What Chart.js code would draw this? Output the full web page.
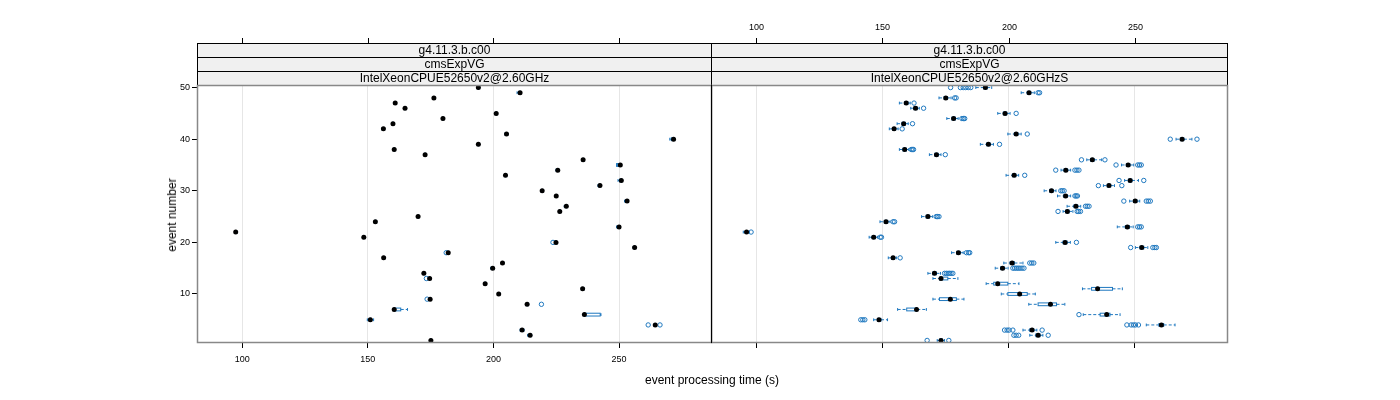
<!DOCTYPE html>
<html lang="en">
  <head>
    <meta charset="UTF-8" />
    <script src="https://cdn.jsdelivr.net/npm/chart.js@4.4.0/dist/chart.umd.min.js"></script>
    <title>event processing time</title>
    <style>
      body { margin: 0; background: #fff; }
      #wrap { position: relative; width: 1400px; height: 400px; font-family: "Liberation Sans", Arial, sans-serif; }
      canvas { position: absolute; top: 0; }
      #left { left: 0; }
      #right { left: 711px; }
      .title { position: absolute; font-size: 12px; line-height: 14px; color: #000; white-space: nowrap; }
      #xtitle { left: 712px; top: 373px; transform: translateX(-50%); }
      #ytitle { left: 172px; top: 215px; transform: translate(-50%, -50%) rotate(-90deg); }
    </style>
  </head>
  <body>
    <div id="wrap">
      <canvas id="left" width="713" height="400"></canvas>
      <canvas id="right" width="537" height="400"></canvas>
      <div class="title" id="xtitle">event processing time (s)</div>
      <div class="title" id="ytitle">event number</div>
    </div>
    <script>
      const events = [
        1, 2, 3, 4, 5, 6, 7, 8, 9, 10, 11, 12, 13, 14, 15, 16, 17, 18, 19, 20,
        21, 22, 23, 24, 25, 26, 27, 28, 29, 30, 31, 32, 33, 34, 35, 36, 37, 38,
        39, 40, 41, 42, 43, 44, 45, 46, 47, 48, 49, 50,
      ];
      const xTicks = [100, 150, 200, 250];
      const yTicks = [10, 20, 30, 40, 50];
      const stripLeft = ["g4.11.3.b.c00", "cmsExpVG", "IntelXeonCPUE52650v2@2.60GHz"];
      const stripRight = ["g4.11.3.b.c00", "cmsExpVG", "IntelXeonCPUE52650v2@2.60GHzS"];

      // left panel (IntelXeonCPUE52650v2@2.60GHz)
      const leftMed = [
        175.1, 214.6, 211.4, 264.4, 151.0, 236.2, 160.5, 213.4, 174.8, 202.1,
        235.5, 196.7, 174.6, 172.3, 199.7, 203.6, 156.3, 182.0, 256.2, 224.9,
        148.4, 97.4, 250.0, 153.0, 170.0, 226.4, 229.0, 253.2, 225.0, 219.4,
        242.4, 250.9, 204.8, 225.6, 250.5, 235.7, 172.8, 160.5, 194.0, 271.7,
        205.2, 156.2, 160.0, 179.9, 201.1, 164.8, 160.9, 176.3, 210.6, 194.0,
      ];
      const leftLo = [
        174.8, 213.6, 210.6, 264.0, 149.8, 235.8, 160.2, 213.0, 174.3, 201.7,
        235.0, 196.3, 174.2, 171.9, 198.9, 203.2, 155.9, 181.6, 255.6, 224.5,
        148.0, 97.0, 249.0, 152.6, 169.6, 226.0, 228.2, 252.2, 224.6, 219.0,
        241.6, 249.6, 204.4, 224.9, 249.3, 235.1, 172.4, 160.1, 193.6, 270.2,
        204.6, 155.6, 159.6, 179.5, 200.7, 164.4, 160.5, 175.9, 209.4, 193.6,
      ];
      const leftQ1 = [
        175.0, 214.2, 211.1, 264.2, 150.6, 236.1, 160.4, 213.2, 174.6, 201.9,
        235.3, 196.5, 174.4, 172.1, 199.4, 203.4, 156.1, 181.8, 256.0, 224.7,
        148.2, 97.2, 249.6, 152.8, 169.8, 226.2, 228.7, 252.8, 224.8, 219.2,
        242.0, 250.3, 204.6, 225.3, 249.0, 235.4, 172.6, 160.3, 193.8, 270.8,
        204.9, 155.9, 159.8, 179.7, 200.9, 164.6, 160.7, 176.1, 210.1, 193.8,
      ];
      const leftQ3 = [
        175.3, 214.9, 211.6, 264.6, 151.4, 242.5, 163.1, 213.7, 175.0, 202.3,
        235.8, 196.9, 174.8, 172.5, 199.9, 203.8, 156.5, 182.2, 256.4, 225.1,
        148.6, 97.6, 250.2, 153.2, 170.2, 226.6, 229.2, 253.4, 225.2, 219.6,
        242.6, 251.1, 205.0, 225.8, 250.7, 235.9, 173.0, 160.7, 194.2, 271.9,
        205.4, 156.4, 160.2, 180.1, 201.3, 165.0, 161.1, 176.5, 210.8, 194.2,
      ];
      const leftHi = [
        175.6, 215.2, 212.2, 264.9, 152.3, 242.8, 165.8, 214.0, 175.3, 202.6,
        236.1, 197.2, 175.0, 172.8, 200.2, 204.1, 156.8, 182.5, 256.7, 225.4,
        148.9, 97.9, 250.5, 153.5, 170.5, 226.9, 229.5, 253.7, 225.5, 219.9,
        242.9, 251.4, 205.3, 226.1, 251.0, 236.2, 173.3, 161.0, 194.5, 272.2,
        205.7, 156.7, 160.5, 180.4, 201.6, 165.3, 161.4, 176.8, 211.1, 194.5,
      ];
      const leftOut = [
        [], [], [], [261.6, 266.3], [], [], [], [219.1], [173.6], [],
        [], [], [173.3], [], [], [], [], [181.2], [], [223.7],
        [], [], [], [], [], [], [], [], [], [],
        [], [], [], [], [], [], [], [], [], [],
        [], [], [], [], [], [], [], [], [], [],
      ];

      // right panel (IntelXeonCPUE52650v2@2.60GHzS)
      const rightMed = [
        173.2, 211.7, 209.3, 260.6, 148.6, 238.9, 163.5, 216.6, 176.9, 204.4,
        235.3, 195.7, 173.2, 170.6, 197.6, 201.4, 154.2, 180.1, 252.8, 222.4,
        146.5, 96.1, 247.1, 151.4, 168.0, 223.3, 226.7, 250.2, 222.6, 217.0,
        239.8, 248.2, 202.2, 222.7, 247.4, 233.2, 171.4, 158.8, 192.0, 268.8,
        203.0, 154.6, 158.4, 178.2, 198.6, 163.1, 159.4, 175.1, 208.1, 190.8,
      ];
      const rightLo = [
        171.7, 208.4, 205.7, 254.6, 146.5, 229.6, 156.0, 208.0, 170.0, 197.1,
        229.3, 191.1, 170.0, 168.0, 194.7, 198.1, 152.3, 177.4, 250.3, 218.7,
        144.7, 94.8, 243.1, 149.0, 165.5, 221.6, 223.2, 248.0, 219.4, 214.1,
        237.6, 246.0, 199.0, 220.8, 244.8, 231.0, 168.6, 156.7, 188.8, 266.4,
        199.7, 152.7, 155.8, 175.5, 195.7, 161.2, 156.7, 172.4, 205.0, 187.0,
      ];
      const rightQ1 = [
        172.6, 210.8, 208.4, 259.6, 148.0, 236.3, 159.6, 211.7, 172.6, 199.7,
        232.9, 194.1, 172.6, 169.9, 196.8, 200.6, 153.6, 179.4, 252.1, 221.6,
        145.9, 95.6, 246.3, 150.7, 167.3, 222.6, 225.9, 249.5, 221.9, 216.3,
        239.1, 247.5, 201.5, 222.0, 246.7, 232.5, 170.7, 158.1, 191.3, 268.1,
        202.3, 154.0, 157.7, 177.5, 197.9, 162.4, 158.7, 174.4, 207.4, 190.1,
      ];
      const rightQ3 = [
        173.8, 212.5, 210.0, 261.5, 149.4, 240.2, 163.8, 219.0, 179.3, 207.4,
        241.2, 199.7, 175.9, 171.4, 198.3, 202.3, 154.8, 180.8, 253.6, 223.2,
        147.1, 96.6, 247.9, 152.1, 168.7, 224.0, 227.4, 250.9, 223.3, 217.7,
        240.5, 248.9, 202.9, 223.4, 248.1, 233.9, 172.1, 159.5, 192.7, 269.5,
        203.7, 155.2, 159.1, 178.9, 199.3, 163.8, 160.1, 175.8, 208.8, 191.5,
      ];
      const rightHi = [
        174.6, 213.6, 211.2, 266.0, 152.0, 244.2, 167.4, 222.3, 182.3, 210.6,
        245.1, 204.1, 179.9, 173.0, 199.8, 205.7, 155.6, 182.0, 255.2, 224.5,
        148.0, 97.2, 249.4, 153.0, 169.9, 225.5, 228.6, 252.0, 224.6, 218.8,
        242.0, 251.5, 204.0, 224.6, 249.6, 236.9, 173.2, 160.4, 194.0, 272.7,
        205.0, 156.2, 160.2, 180.0, 200.6, 164.6, 161.0, 177.2, 210.2, 193.3,
      ];
      const rightOut = [
        [167.7, 176.3], [202.1, 203.0, 204.0, 215.7], [198.4, 199.4, 200.2, 201.7, 213.3],
        [246.9, 248.6, 249.5, 250.3, 251.5], [141.4, 142.2, 143.0], [227.9], [], [], [], [],
        [], [], [], [174.6, 175.3, 176.0, 176.6, 177.2, 177.9],
        [201.7, 202.4, 203.1, 203.8, 204.5, 205.3, 206.1], [208.4, 209.2, 210.0], [157.0],
        [183.3, 184.1, 184.6], [248.4, 257.2, 258.0, 258.6], [226.9],
        [149.1, 149.6], [97.9], [251.2, 251.9, 252.6], [154.2, 154.8], [171.3, 171.8, 172.4],
        [219.6, 227.2, 227.8, 228.5], [230.5, 231.2, 231.9], [245.7, 254.6, 255.4, 256.2],
        [226.3, 226.8, 227.3], [220.7, 221.3, 222.0],
        [235.6, 244.9], [243.8, 253.6], [206.4], [218.7, 226.3, 227.1, 227.9],
        [242.6, 251.2, 251.9, 252.6], [228.9, 238.2], [174.9], [161.4, 161.9, 162.3], [196.4],
        [264.1, 274.7],
        [207.4], [157.8], [161.9], [181.5, 182.1, 182.6], [203.0], [166.3], [162.5],
        [178.6, 179.2], [211.7, 212.3], [177.0, 180.9, 182.0, 183.0, 184.0, 185.0],
      ];

      const blue = "#1f78bf";
      const font = "'Liberation Sans', Arial, sans-serif";

      // boxes and dashed whiskers, drawn under the points
      const boxPlugin = {
        id: "boxes",
        beforeDatasetsDraw: function (chart, args, o) {
          var ctx = chart.ctx;
          var xs = chart.scales.x;
          var ys = chart.scales.y;
          var h = 1.4;
          ctx.save();
          ctx.strokeStyle = blue;
          ctx.lineWidth = 1;
          for (var i = 0; i < events.length; i++) {
            var y = ys.getPixelForValue(events[i]);
            var xl = xs.getPixelForValue(o.lo[i]);
            var x1 = xs.getPixelForValue(o.q1[i]);
            var x3 = xs.getPixelForValue(o.q3[i]);
            var xh = xs.getPixelForValue(o.hi[i]);
            ctx.setLineDash([]);
            ctx.strokeRect(x1, y - h, x3 - x1, 2 * h);
            ctx.beginPath();
            ctx.moveTo(xl, y - h);
            ctx.lineTo(xl, y + h);
            ctx.moveTo(xh, y - h);
            ctx.lineTo(xh, y + h);
            ctx.stroke();
            ctx.setLineDash([3, 2]);
            ctx.beginPath();
            ctx.moveTo(xl, y);
            ctx.lineTo(x1, y);
            ctx.moveTo(x3, y);
            ctx.lineTo(xh, y);
            ctx.stroke();
          }
          ctx.restore();
        },
      };

      // strips, panel frame and the ticks above the strips
      const decoPlugin = {
        id: "deco",
        afterDraw: function (chart, args, o) {
          var ctx = chart.ctx;
          var a = chart.chartArea;
          var xs = chart.scales.x;
          var top = 43;
          var h = 14;
          ctx.save();
          ctx.lineWidth = 1;
          ctx.strokeStyle = "#000";
          ctx.textAlign = "center";
          ctx.textBaseline = "middle";
          ctx.font = "12px " + font;
          for (var k = 0; k < o.labels.length; k++) {
            var y = top + k * h;
            ctx.fillStyle = "#f0f0f0";
            ctx.fillRect(a.left, y, a.right - a.left, h);
            ctx.strokeRect(a.left + 0.5, y + 0.5, a.right - a.left - 1, h);
            ctx.fillStyle = "#000";
            ctx.fillText(o.labels[k], (a.left + a.right) / 2, y + h / 2 + 0.5);
          }
          // panel frame, soft grey like the reference
          ctx.strokeStyle = "#888";
          ctx.lineWidth = 1.5;
          ctx.strokeRect(a.left + 0.5, a.top + 0.5, a.right - a.left - 1, a.bottom - a.top - 1);
          // the black line shared by the two panels (same page x in both canvases)
          var mid = o.isLeft ? a.right - 0.5 : a.left + 0.5;
          ctx.strokeStyle = "#000";
          ctx.lineWidth = 1;
          ctx.beginPath();
          ctx.moveTo(mid, a.top);
          ctx.lineTo(mid, a.bottom);
          ctx.stroke();
          ctx.font = "9px " + font;
          for (var t = 0; t < xTicks.length; t++) {
            var x = Math.round(xs.getPixelForValue(xTicks[t])) + 0.5;
            ctx.beginPath();
            ctx.moveTo(x, top - 5);
            ctx.lineTo(x, top);
            ctx.stroke();
            if (!o.isLeft) ctx.fillText(String(xTicks[t]), x, 28);
          }
          ctx.restore();
        },
      };

      function makePanel(id, lo, q1, med, q3, hi, out, strips, isLeft) {
        var outPts = [];
        for (var i = 0; i < events.length; i++) {
          for (var j = 0; j < out[i].length; j++) {
            outPts.push({ x: out[i][j], y: events[i] });
          }
        }
        var medPts = events.map(function (e, i) {
          return { x: med[i], y: e };
        });

        return new Chart(document.getElementById(id), {
          type: "scatter",
          data: {
            datasets: [
              {
                data: medPts,
                pointRadius: 2.5,
                pointBackgroundColor: "#000",
                pointBorderWidth: 0,
              },
              {
                data: outPts,
                pointRadius: 2.2,
                pointBackgroundColor: "rgba(0,0,0,0)",
                pointBorderColor: blue,
                pointBorderWidth: 1,
              },
            ],
          },
          options: {
            responsive: false,
            animation: false,
            events: [],
            devicePixelRatio: 1,
            layout: { autoPadding: false, padding: { top: 85, left: 0, right: isLeft ? 1 : 0, bottom: 0 } },
            plugins: {
              legend: { display: false },
              tooltip: { enabled: false },
              boxes: { lo: lo, q1: q1, q3: q3, hi: hi },
              deco: { labels: strips, isLeft: isLeft },
            },
            scales: {
              x: {
                type: "linear",
                min: 82,
                max: 287,
                afterBuildTicks: function (s) {
                  s.ticks = xTicks.map(function (v) { return { value: v }; });
                },
                afterFit: function (s) { s.height = 57; },
                grid: { color: "#e6e6e6", tickColor: "#000", tickLength: 5 },
                border: { display: false },
                ticks: { display: isLeft, color: "#000", font: { size: 9, family: font }, padding: 6, maxRotation: 0 },
              },
              y: {
                type: "linear",
                position: isLeft ? "left" : "right",
                min: 0.5,
                max: 50.5,
                afterBuildTicks: function (s) {
                  s.ticks = yTicks.map(function (v) { return { value: v }; });
                },
                afterFit: function (s) { s.width = isLeft ? 197 : 20; },
                grid: { display: isLeft, drawOnChartArea: false, tickColor: "#000", tickLength: 5 },
                border: { display: false },
                ticks: { display: isLeft, color: "#000", font: { size: 9, family: font }, padding: 2 },
              },
            },
          },
          plugins: [boxPlugin, decoPlugin],
        });
      }

      makePanel("left", leftLo, leftQ1, leftMed, leftQ3, leftHi, leftOut, stripLeft, true);
      makePanel("right", rightLo, rightQ1, rightMed, rightQ3, rightHi, rightOut, stripRight, false);
    </script>
  </body>
</html>
